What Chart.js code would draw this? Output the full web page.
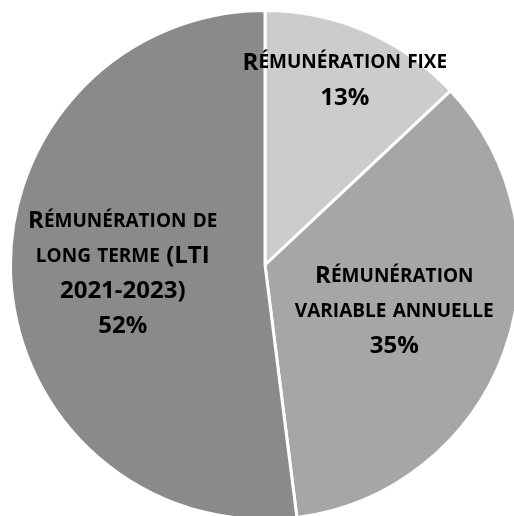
<!DOCTYPE html>
<html>
<head>
<meta charset="utf-8">
<script src="https://cdn.jsdelivr.net/npm/chart.js@4"></script>
<style>
  html, body { margin: 0; padding: 0; background: #fff; overflow: hidden; width: 514px; height: 516px; }
  #wrap { position: absolute; left: 9px; top: 9px; width: 512px; height: 512px; }
</style>
</head>
<body>
<div id="wrap"><canvas id="chart"></canvas></div>
<script>
// slice names, split in lines the way the picture shows them
const labels = ["Rémunération fixe", "Rémunération variable annuelle", "Rémunération de long terme (LTI 2021-2023)"];
const label_lines = [
    ["Rémunération fixe"],
    ["Rémunération", "variable annuelle"],
    ["Rémunération de", "long terme (LTI", "2021-2023)"]
];
const values = [13, 35, 52];
const colors = ["#cccccc", "#a6a6a6", "#8a8a8a"];

const FONT = "'Open Sans'";

// draw one line in small caps: real capitals big, lower case letters as small capitals
function small_caps_line(c, text, x, y, big, small) {
    let parts = [];
    for (const ch of text) {
        const low = ch !== ch.toUpperCase();
        parts.push({ t: low ? ch.toUpperCase() : ch, size: low ? small : big });
    }
    let width = 0;
    for (const p of parts) {
        c.font = `bold ${p.size}px ${FONT}`;
        p.w = c.measureText(p.t).width;
        width += p.w;
    }
    let cx = x - width / 2;
    for (const p of parts) {
        c.font = `bold ${p.size}px ${FONT}`;
        c.fillText(p.t, cx, y);
        cx += p.w;
    }
}

// label plugin, puts name and percent inside each slice
const slice_labels = {
    id: "slice_labels",
    afterDatasetsDraw(chart, args, opts) {
        const c = chart.ctx;
        const meta = chart.getDatasetMeta(0);
        const total = values.reduce((a, b) => a + b, 0);
        c.save();
        c.fillStyle = "#000";
        c.textBaseline = "middle";
        c.textAlign = "left";
        meta.data.forEach((arc, i) => {
            const mid = (arc.startAngle + arc.endAngle) / 2;
            const r = arc.outerRadius * opts.radial[i];
            const x = arc.x + Math.cos(mid) * r;
            const y = arc.y + Math.sin(mid) * r;
            const lines = label_lines[i].concat([Math.round(values[i] / total * 100) + "%"]);
            const top = y - (lines.length - 1) * opts.lineHeight / 2;
            lines.forEach((line, k) => {
                small_caps_line(c, line, x, top + k * opts.lineHeight, opts.big, opts.small);
            });
        });
        c.restore();
    }
};

window.chart = new Chart(document.getElementById("chart"), {
    type: "pie",
    data: {
        labels: labels,
        datasets: [{
            data: values,
            backgroundColor: colors,
            borderColor: "#ffffff",
            borderWidth: 3
        }]
    },
    options: {
        responsive: true,
        maintainAspectRatio: false,
        animation: false,
        layout: { padding: 0 },
        plugins: {
            legend: { display: false },
            tooltip: { enabled: false },
            slice_labels: { radial: [0.79, 0.54, 0.56], lineHeight: 35, big: 24, small: 19 }
        }
    },
    plugins: [slice_labels]
});
</script>
</body>
</html>
